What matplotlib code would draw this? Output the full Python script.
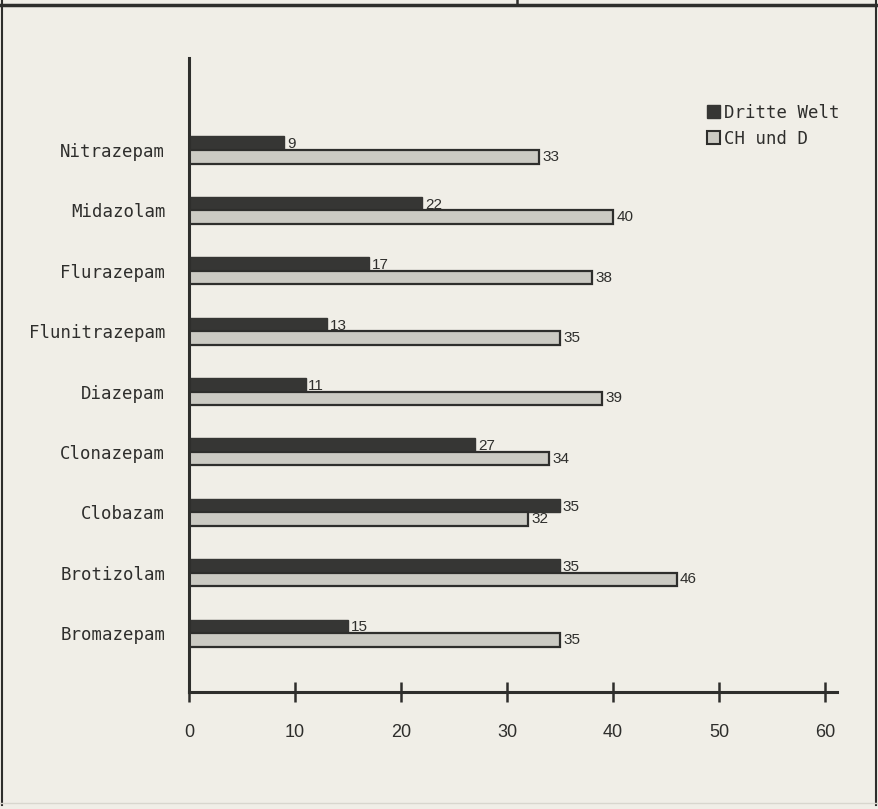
import matplotlib.pyplot as plt
from matplotlib.lines import Line2D
from matplotlib.patches import Patch

# data, bottom to top as drawn
drugs = ['Bromazepam', 'Brotizolam', 'Clobazam', 'Clonazepam', 'Diazepam',
         'Flunitrazepam', 'Flurazepam', 'Midazolam', 'Nitrazepam']
dritte_welt = [15, 35, 35, 27, 11, 13, 17, 22, 9]
ch_und_d = [35, 46, 32, 34, 39, 35, 38, 40, 33]
x_ticks = [0, 10, 20, 30, 40, 50, 60]
legend_labels = ['Dritte Welt', 'CH und D']

bg = '#f0eee7'
dark = '#363634'
light = '#cbcac3'
ink = '#2e2e2c'
mono = ['DejaVu Sans Mono']
narrow = ['Liberation Sans Narrow', 'Liberation Sans', 'DejaVu Sans']

fig = plt.figure(figsize=(8.79, 8.09), dpi=100, facecolor=bg)
ax = fig.add_axes([0.215, 0.1446, 0.9522 - 0.215, 0.9283 - 0.1446])
ax.set_facecolor(bg)

pos = list(range(len(drugs)))
h = 0.224
ax.barh([p + h / 2 for p in pos], dritte_welt, height=h, color=dark,
        edgecolor=dark, linewidth=1)
ax.barh([p - h / 2 for p in pos], ch_und_d, height=h, color=light,
        edgecolor=ink, linewidth=1.6)

for p, a, b in zip(pos, dritte_welt, ch_und_d):
    ax.text(a + 0.25, p + h / 2 - 0.02, str(a), va='center', ha='left',
            fontsize=11, color=ink, family=narrow)
    ax.text(b + 0.3, p - h / 2, str(b), va='center', ha='left',
            fontsize=11, color=ink, family=narrow)

ax.set_xlim(0, 61.13)
ax.set_ylim(-0.977, 9.524)
ax.set_xticks(x_ticks)
ax.set_xticklabels([str(t) for t in x_ticks], family=narrow, fontsize=13,
                   color=ink)
ax.set_yticks(pos)
ax.set_yticklabels(drugs, family=mono, fontsize=12.5, color=ink)
ax.tick_params(axis='x', direction='inout', length=14, width=1.8,
               color=ink, pad=16)
ax.tick_params(axis='y', length=0, pad=17)

for s in ['top', 'right']:
    ax.spines[s].set_visible(False)
for s in ['left', 'bottom']:
    ax.spines[s].set_linewidth(2.2)
    ax.spines[s].set_color(ink)

# legend
handles = [Patch(facecolor=dark, edgecolor=dark),
           Patch(facecolor=light, edgecolor=ink, linewidth=1.5)]
leg = fig.legend(handles, legend_labels, loc='upper left',
                 bbox_to_anchor=(0.786, 0.891), frameon=False,
                 handlelength=0.75, handleheight=0.75, handletextpad=0.25,
                 labelspacing=0.45, prop={'family': mono, 'size': 12.5})
for t in leg.get_texts():
    t.set_color(ink)

# scanned frame around the chart
fig.add_artist(Line2D([0, 1], [1 - 5 / 809, 1 - 5 / 809], color=ink, lw=2.5))
fig.add_artist(Line2D([2.5 / 879, 2.5 / 879], [0.005, 1], color=ink, lw=1.5))
fig.add_artist(Line2D([876 / 879, 876 / 879], [0.005, 1], color=ink, lw=1.5))
fig.add_artist(Line2D([517 / 879, 517 / 879], [1 - 5 / 809, 1], color=ink, lw=1.8))
fig.add_artist(Line2D([0, 1], [1 - 803 / 809, 1 - 803 / 809], color='#d8d6ce', lw=1))

fig.savefig('out.png', dpi=100, facecolor=bg)
